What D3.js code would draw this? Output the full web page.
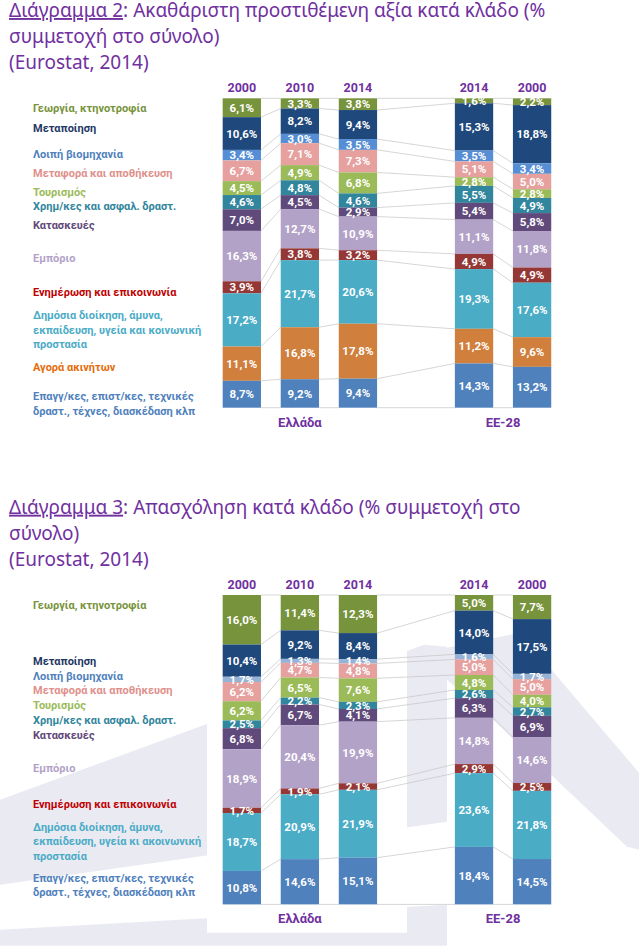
<!DOCTYPE html>
<html>
<head>
<meta charset="utf-8">
<script src="https://cdn.jsdelivr.net/npm/d3@7"></script>
<style>
  body { margin: 0; background: #fff; }
  svg { display: block; }
  text { font-family: Roboto, "Noto Sans", sans-serif; }
  .title { font-family: "Noto Sans", sans-serif; font-size: 19px; fill: #7030a0; }
</style>
</head>
<body>
<svg id="chart" width="639" height="946"></svg>
<script>
// ---- data ----
const barYears = ["2000", "2010", "2014", "2014", "2000"];
const barIds = ["gr2000", "gr2010", "gr2014", "gap", "eu2014", "eu2000"];
const groupNames = ["Ελλάδα", "EE-28"];

// Διάγραμμα 2: ακαθάριστη προστιθέμενη αξία (%)
const gvaSectors = [
  "Γεωργία, κτηνοτροφία",
  "Μεταποίηση",
  "Λοιπή βιομηχανία",
  "Μεταφορά και αποθήκευση",
  "Τουρισμός",
  "Χρημ/κες και ασφαλ. δραστ.",
  "Κατασκευές",
  "Εμπόριο",
  "Ενημέρωση και επικοινωνία",
  "Δημόσια διοίκηση, άμυνα,\nεκπαίδευση, υγεία και κοινωνική\nπροστασία",
  "Αγορά ακινήτων",
  "Επαγγ/κες, επιστ/κες, τεχνικές\nδραστ., τέχνες, διασκέδαση κλπ"
];
const gvaGr2000 = [6.1, 10.6, 3.4, 6.7, 4.5, 4.6, 7.0, 16.3, 3.9, 17.2, 11.1, 8.7];
const gvaGr2010 = [3.3, 8.2, 3.0, 7.1, 4.9, 4.8, 4.5, 12.7, 3.8, 21.7, 16.8, 9.2];
const gvaGr2014 = [3.8, 9.4, 3.5, 7.3, 6.8, 4.6, 2.9, 10.9, 3.2, 20.6, 17.8, 9.4];
const gvaEu2014 = [1.6, 15.3, 3.5, 5.1, 2.8, 5.5, 5.4, 11.1, 4.9, 19.3, 11.2, 14.3];
const gvaEu2000 = [2.2, 18.8, 3.4, 5.0, 2.8, 4.9, 5.8, 11.8, 4.9, 17.6, 9.6, 13.2];

// Διάγραμμα 3: απασχόληση (%)
const empSectors = [
  "Γεωργία, κτηνοτροφία",
  "Μεταποίηση",
  "Λοιπή βιομηχανία",
  "Μεταφορά και αποθήκευση",
  "Τουρισμός",
  "Χρημ/κες και ασφαλ. δραστ.",
  "Κατασκευές",
  "Εμπόριο",
  "Ενημέρωση και επικοινωνία",
  "Δημόσια διοίκηση, άμυνα,\nεκπαίδευση, υγεία κι ακοινωνική\nπροστασία",
  "Επαγγ/κες, επιστ/κες, τεχνικές\nδραστ., τέχνες, διασκέδαση κλπ"
];
const empGr2000 = [16.0, 10.4, 1.7, 6.2, 6.2, 2.5, 6.8, 18.9, 1.7, 18.7, 10.8];
const empGr2010 = [11.4, 9.2, 1.3, 4.7, 6.5, 2.2, 6.7, 20.4, 1.9, 20.9, 14.6];
const empGr2014 = [12.3, 8.4, 1.4, 4.8, 7.6, 2.3, 4.1, 19.9, 2.1, 21.9, 15.1];
const empEu2014 = [5.0, 14.0, 1.6, 5.0, 4.8, 2.6, 6.3, 14.8, 2.9, 23.6, 18.4];
const empEu2000 = [7.7, 17.5, 1.7, 5.0, 4.0, 2.7, 6.9, 14.6, 2.5, 21.8, 14.5];

// ---- styles ----
const gvaBarColors = ["#77933c", "#1f497d", "#558ed5", "#e6a19f", "#9bbb59", "#31859c",
  "#604a7b", "#b3a2c7", "#953735", "#4bacc6", "#d0803c", "#4f81bd"];
const gvaTextColors = ["#77933c", "#1f3864", "#4f81bd", "#e0908c", "#9bbb59", "#31859c",
  "#60497a", "#b3a2c7", "#c00000", "#4bacc6", "#e46c0a", "#4f81bd"];
const empBarColors = ["#77933c", "#1f497d", "#95b3d7", "#e6a19f", "#9bbb59", "#31859c",
  "#604a7b", "#b3a2c7", "#953735", "#4bacc6", "#4f81bd"];
const empTextColors = ["#77933c", "#1f3864", "#4f81bd", "#e0908c", "#9bbb59", "#31859c",
  "#60497a", "#b3a2c7", "#c00000", "#4bacc6", "#4f81bd"];
// label positions (first line centre, px from chart top)
const gvaLabelY = [108, 128, 154, 173, 192, 206, 225, 258, 292, 315, 367, 396];
const empLabelY = [108, 164, 179, 193, 208, 223, 238, 271, 307, 330, 381];

const svg = d3.select("#chart");
const fmt = v => d3.format(".1f")(v).replace(".", ",") + "%";

const x = d3.scaleBand()
  .domain(barIds)
  .range([212.8, 561.1])
  .paddingInner(0.34)
  .paddingOuter(0.17);
const bw = x.bandwidth();
const bars = barIds.filter(d => d !== "gap");

function drawWatermark(g) {
  const wm = g.append("g").attr("fill", "#eaeaf3");
  const shapes = [
    [[0, 303], [424, 148], [447, 150], [447, 325], [0, 388]],
    [[447, 151], [520, 136], [639, 276], [639, 353], [627, 350], [493, 223], [447, 183]],
    [[0, 433], [447, 408], [447, 449], [0, 449]]
  ];
  shapes.forEach(s => wm.append("path").attr("d", d3.line()(s)));
  // white plot area behind the Greek bars
  g.append("rect").attr("x", 207).attr("y", 91).attr("width", 200).attr("height", 345).attr("fill", "#fff");
}

function drawChart(cfg) {
  const g = svg.append("g").attr("transform", `translate(0,${cfg.offset})`);
  if (cfg.watermark) drawWatermark(g);

  // title
  const t1 = g.append("text").attr("class", "title").attr("x", 9).attr("y", 17);
  t1.append("tspan").attr("text-decoration", "underline").text(cfg.title[0]);
  t1.append("tspan").text(cfg.title[1]);
  g.append("text").attr("class", "title").attr("x", 9).attr("y", 43).text(cfg.title[2]);
  g.append("text").attr("class", "title").attr("x", 9).attr("y", 69).text(cfg.title[3]);

  const y = d3.scaleLinear().domain([0, 1]).range([98.3, 407.7]);
  const keys = cfg.sectors.map((s, i) => i);
  const rows = cfg.columns.map(col => Object.fromEntries(col.map((v, i) => [i, v])));
  const series = d3.stack().keys(keys).offset(d3.stackOffsetExpand)(rows);

  // series lines between neighbouring bars
  const lines = g.append("g").attr("stroke", "#c4c4c4").attr("stroke-width", 0.7);
  for (let j = 0; j < bars.length - 1; j++) {
    const bounds = series.map(s => s[j][0]).concat([1]);
    const next = series.map(s => s[j + 1][0]).concat([1]);
    bounds.forEach((b, k) => {
      lines.append("line")
        .attr("x1", x(bars[j]) + bw).attr("y1", y(b))
        .attr("x2", x(bars[j + 1])).attr("y2", y(next[k]));
    });
  }

  // stacked segments
  const seg = g.append("g").selectAll("g")
    .data(series).join("g")
    .attr("fill", (d, i) => cfg.barColors[i]);
  seg.selectAll("rect")
    .data(d => d)
    .join("rect")
    .attr("x", (d, j) => x(bars[j]))
    .attr("width", bw)
    .attr("y", d => y(d[0]))
    .attr("height", d => y(d[1]) - y(d[0]));

  // value labels
  const vl = g.append("g").attr("fill", "#fff").attr("font-size", 11.5).attr("font-weight", "bold")
    .attr("text-anchor", "middle");
  series.forEach((s, i) => {
    s.forEach((d, j) => {
      vl.append("text")
        .attr("x", x(bars[j]) + bw / 2)
        .attr("y", y((d[0] + d[1]) / 2))
        .attr("dy", "0.36em")
        .text(fmt(cfg.columns[j][i]));
    });
  });

  // year labels
  g.append("g").selectAll("text").data(bars).join("text")
    .attr("x", d => x(d) + bw / 2).attr("y", 87.5).attr("dy", "0.36em")
    .attr("text-anchor", "middle").attr("font-size", 12.5).attr("font-weight", "bold")
    .attr("fill", "#7030a0")
    .text((d, j) => barYears[j]);

  // group labels
  const groupCenters = [
    (x("gr2000") + x("gr2014") + bw) / 2,
    (x("eu2014") + x("eu2000") + bw) / 2
  ];
  g.append("g").selectAll("text").data(groupNames).join("text")
    .attr("x", (d, i) => groupCenters[i]).attr("y", 422).attr("dy", "0.36em")
    .attr("text-anchor", "middle").attr("font-size", 13).attr("font-weight", "bold")
    .attr("fill", "#7030a0")
    .text(d => d);

  // sector labels on the left
  cfg.sectors.forEach((name, i) => {
    const t = g.append("text")
      .attr("x", 33).attr("y", cfg.labelY[i])
      .attr("font-size", 11).attr("font-weight", "bold")
      .attr("fill", cfg.textColors[i]);
    name.split("\n").forEach((line, k) => {
      t.append("tspan").attr("x", 33).attr("y", cfg.labelY[i] + k * 14.7)
        .attr("dy", "0.36em").text(line);
    });
  });
}

drawChart({
  offset: 0,
  title: ["Διάγραμμα 2", ": Ακαθάριστη προστιθέμενη αξία κατά κλάδο (%", "συμμετοχή στο σύνολο)", "(Eurostat, 2014)"],
  sectors: gvaSectors,
  columns: [gvaGr2000, gvaGr2010, gvaGr2014, gvaEu2014, gvaEu2000],
  barColors: gvaBarColors,
  textColors: gvaTextColors,
  labelY: gvaLabelY,
  watermark: false
});

drawChart({
  offset: 496.7,
  title: ["Διάγραμμα 3", ": Απασχόληση κατά κλάδο (% συμμετοχή στο", "σύνολο)", "(Eurostat, 2014)"],
  sectors: empSectors,
  columns: [empGr2000, empGr2010, empGr2014, empEu2014, empEu2000],
  barColors: empBarColors,
  textColors: empTextColors,
  labelY: empLabelY,
  watermark: true
});
</script>
</body>
</html>
